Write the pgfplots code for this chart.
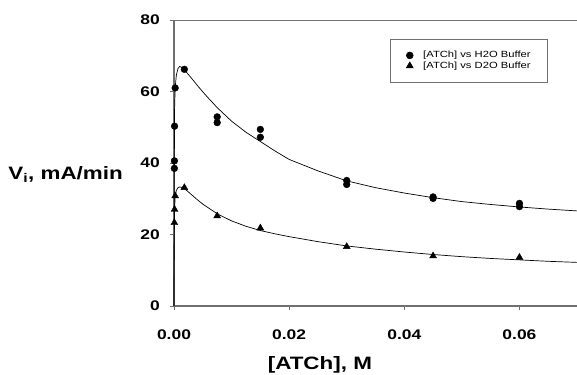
\documentclass[border=0pt]{standalone}
\usepackage{fontspec}
\setmainfont{Liberation Sans}[FakeStretch=1.25]
\usepackage{pgfplots}
\pgfplotsset{compat=1.18}
\definecolor{axgray}{HTML}{707070}
\begin{document}
\begin{tikzpicture}
\begin{axis}[
  scale only axis, width=403bp, height=286bp,
  xmin=0, xmax=0.07, ymin=0, ymax=80,
  clip=false,
  axis x line*=bottom, axis y line*=left,
  x axis line style={draw=axgray, line width=1.2bp},
  y axis line style={draw=axgray, line width=1.5bp},
  tick style={draw=axgray, line width=0.8bp},
  tick align=outside, major tick length=4bp,
  xtick={0,0.02,0.04,0.06}, ytick={0,20,40,60,80},
  scaled x ticks=false,
  /pgf/number format/assume math mode=true,
  xticklabel style={/pgf/number format/.cd, fixed, fixed zerofill, precision=2, /tikz/.cd,
    font=\fontsize{14}{14}\selectfont\bfseries, anchor=base, inner sep=0pt, yshift=-30bp},
  yticklabel style={font=\fontsize{14}{14}\selectfont\bfseries, anchor=east, inner sep=0pt, xshift=-10bp},
  xlabel={[ATCh], M},
  ylabel={V\textsubscript{i}, mA/min},
  every axis x label/.style={at={(rel axis cs:0.362,0)}, anchor=base, inner sep=0pt, yshift=-64bp,
    font=\fontsize{18}{18}\selectfont\bfseries},
  every axis y label/.style={at={(rel axis cs:0,0.443)}, anchor=base east, inner sep=0pt, xshift=-51bp,
    font=\fontsize{18}{18}\selectfont\bfseries},
  legend style={at={(rel axis cs:0.536,0.934)}, anchor=north west, draw=axgray, line width=0.6bp,
    font=\fontsize{9}{9}\selectfont, inner xsep=16bp, inner ysep=11bp, row sep=0pt, column sep=9bp,
    nodes={inner sep=1bp, text height=6.7bp, text depth=1.8bp}},
  legend cell align=left,
]
% fitted curves
\addplot[black, line width=0.7bp, forget plot] coordinates {
(0,0) (0.00003,30) (0.0001,55) (0.0002,61) (0.0004,64.5) (0.0007,66.5) (0.001,67) (0.0015,66.6)
(0.002,65.7) (0.003,63.8) (0.004,61.8) (0.005,59.9) (0.006,58.1) (0.0075,55.5) (0.01,51.7)
(0.0125,48.6) (0.015,46.0) (0.0175,43.4) (0.02,41.0) (0.025,37.8) (0.03,35.0) (0.035,33.1)
(0.04,31.6) (0.045,30.3) (0.05,29.2) (0.055,28.4) (0.06,27.7) (0.065,27.1) (0.07,26.6)};
\addplot[black, line width=0.7bp, forget plot] coordinates {
(0,0) (0.00003,15) (0.0001,27) (0.0002,30.5) (0.0004,32.3) (0.0007,33.1) (0.001,33.3) (0.0015,33.1)
(0.002,32.6) (0.003,31.2) (0.004,29.8) (0.005,28.5) (0.0075,25.8) (0.01,23.8) (0.0125,22.3)
(0.015,21.1) (0.0175,20.2) (0.02,19.4) (0.025,18.0) (0.03,16.8) (0.035,15.9) (0.04,15.1)
(0.045,14.4) (0.05,13.8) (0.055,13.3) (0.06,12.9) (0.065,12.5) (0.07,12.2)};
% data
\addplot[only marks, mark=*, mark size=3.4bp, black] coordinates {
(0.00006,38.5) (0.00007,40.6) (0.0001,50.3) (0.0002,61.0) (0.0018,66.2)
(0.0075,52.9) (0.0075,51.3) (0.015,49.4) (0.015,47.2)
(0.03,35.1) (0.03,34.0) (0.045,30.5) (0.045,30.1) (0.06,28.7) (0.06,27.8)};
\addlegendentry{[ATCh] vs H2O Buffer}
\addplot[only marks, mark=triangle*, mark size=4bp, black] coordinates {
(0.00006,23.3) (0.0001,27.0) (0.0002,30.8) (0.0018,33.1)
(0.0075,25.2) (0.015,21.8) (0.03,16.6) (0.045,14.0) (0.06,13.6)};
\addlegendentry{[ATCh] vs D2O Buffer}
\draw[axgray, line width=0.8bp] (rel axis cs:0,1) -- (rel axis cs:1,1);
\coordinate (O) at (rel axis cs:0,0);
\coordinate (T) at (rel axis cs:1,1);
\end{axis}
\pgfresetboundingbox
\path[use as bounding box] ([xshift=-174bp,yshift=-69bp]O) rectangle ([yshift=20bp]T);
\end{tikzpicture}
\end{document}
